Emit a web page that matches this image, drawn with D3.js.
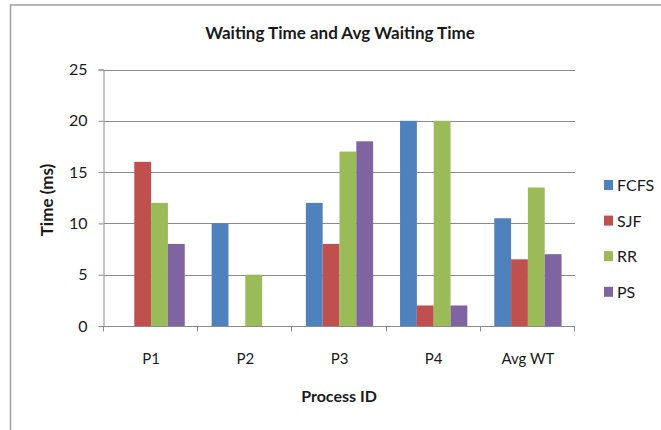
<!DOCTYPE html>
<html>
<head>
<meta charset="utf-8">
<script src="https://cdn.jsdelivr.net/npm/d3@7"></script>
<style>
  body { margin: 0; background: #fff; }
  text { font-family: Lato, "Open Sans", sans-serif; fill: #1a1a1a; }
</style>
</head>
<body>
<div id="chart"></div>
<script>
const categories = ["P1", "P2", "P3", "P4", "Avg WT"]
const series = ["FCFS", "SJF", "RR", "PS"]
const fcfs = [0, 10, 12, 20, 10.5]
const sjf = [16, 0, 8, 2, 6.5]
const rr = [12, 5, 17, 20, 13.5]
const ps = [8, 0, 18, 2, 7]
const yTicks = [0, 5, 10, 15, 20, 25]

const colors = ["#4F81BD", "#C0504D", "#9BBB59", "#8064A2"]
const values = [fcfs, sjf, rr, ps]

const width = 661, height = 430
const margin = {top: 69.5, left: 104, right: 86, bottom: 104}

const svg = d3.select("#chart")
    .append("svg")
    .attr("width", width)
    .attr("height", height)

// outer chart border
svg.append("rect")
    .attr("x", 10.5).attr("y", 5)
    .attr("width", 700).attr("height", 500)
    .attr("fill", "none")
    .attr("stroke", "#a0a0a0")
    .attr("stroke-width", 1.5)

const x0 = d3.scaleBand()
    .domain(categories)
    .range([margin.left, width - margin.right])
    .padding(0)

const x1 = d3.scaleBand()
    .domain(series)
    .range([0, x0.bandwidth()])
    .paddingInner(0)
    .paddingOuter(0.8)

const y = d3.scaleLinear()
    .domain([0, 25])
    .range([height - margin.bottom, margin.top])

// gridlines
svg.append("g")
    .selectAll("line")
    .data(yTicks.slice(1))
    .join("line")
    .attr("x1", margin.left)
    .attr("x2", width - margin.right)
    .attr("y1", d => Math.round(y(d)) + 0.5)
    .attr("y2", d => Math.round(y(d)) + 0.5)
    .attr("stroke", "#8a8a8a")
    .attr("stroke-width", 1)

// bars
const data = categories.map((c, i) => ({cat: c, vals: series.map((s, j) => ({s, v: values[j][i], j}))}))

svg.append("g")
    .selectAll("g")
    .data(data)
    .join("g")
    .attr("transform", d => `translate(${x0(d.cat)},0)`)
    .selectAll("rect")
    .data(d => d.vals.filter(e => e.v > 0))
    .join("rect")
    .attr("x", d => x1(d.s))
    .attr("width", x1.bandwidth())
    .attr("y", d => y(d.v))
    .attr("height", d => y(0) - y(d.v))
    .attr("fill", d => colors[d.j])

// y axis
const yAxis = svg.append("g")
    .attr("transform", `translate(${margin.left - 0.5},0)`)
    .call(d3.axisLeft(y).tickValues(yTicks).tickSize(5).tickPadding(11))
yAxis.selectAll("path, line").attr("stroke", "#8a8a8a")
yAxis.selectAll("text").style("font-size", "16px").style("font-family", "Lato, sans-serif").attr("fill", "#1a1a1a")

// x axis
const xg = svg.append("g")
    .attr("transform", `translate(0,${Math.round(y(0)) + 0.5})`)
xg.append("line")
    .attr("x1", margin.left).attr("x2", width - margin.right)
    .attr("stroke", "#8a8a8a")
xg.selectAll(".tk")
    .data(categories.map(c => x0(c)).concat([width - margin.right]))
    .join("line")
    .attr("class", "tk")
    .attr("x1", d => Math.round(d) - 0.5).attr("x2", d => Math.round(d) - 0.5)
    .attr("y1", 0).attr("y2", 5)
    .attr("stroke", "#8a8a8a")
xg.selectAll("text")
    .data(categories)
    .join("text")
    .attr("x", d => x0(d) + x0.bandwidth() / 2)
    .attr("y", 37)
    .attr("text-anchor", "middle")
    .style("font-size", "15px")
    .text(d => d)

// titles
svg.append("text")
    .attr("x", 340).attr("y", 39)
    .attr("text-anchor", "middle")
    .style("font-size", "17px")
    .style("font-weight", "bold")
    .text("Waiting Time and Avg Waiting Time")

svg.append("text")
    .attr("x", 339).attr("y", 402)
    .attr("text-anchor", "middle")
    .style("font-size", "16px")
    .style("font-weight", "bold")
    .text("Process ID")

svg.append("text")
    .attr("transform", "translate(53,200) rotate(-90)")
    .attr("text-anchor", "middle")
    .style("font-size", "17px")
    .style("font-weight", "bold")
    .text("Time (ms)")

// legend
const legend = svg.append("g")
    .attr("transform", "translate(604,180)")
legend.selectAll("rect")
    .data(series)
    .join("rect")
    .attr("x", 0)
    .attr("y", (d, i) => i * 35.6)
    .attr("width", 9).attr("height", 10)
    .attr("fill", (d, i) => colors[i])
legend.selectAll("text")
    .data(series)
    .join("text")
    .attr("x", 13)
    .attr("y", (d, i) => i * 35.6 + 11)
    .style("font-size", "16px")
    .text(d => d)
</script>
</body>
</html>
